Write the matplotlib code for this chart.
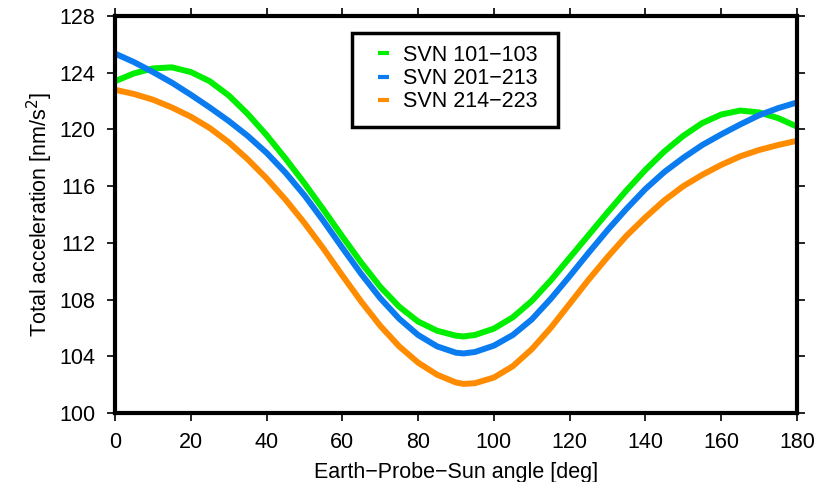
import numpy as np
import matplotlib
matplotlib.use("Agg")
import matplotlib.pyplot as plt
from matplotlib.patches import Rectangle

plt.rcParams['font.family'] = ['Liberation Sans', 'DejaVu Sans']

# Earth-Probe-Sun angle [deg]
angle = [0, 5, 10, 15, 20, 25, 30, 35, 40, 45, 50, 55, 60, 65, 70, 75, 80, 85, 90, 92,
         95, 100, 105, 110, 115, 120, 125, 130, 135, 140, 145, 150, 155, 160, 165, 170, 175, 180]

# total acceleration [nm/s^2]
svn_101_103 = [123.4, 123.95, 124.3, 124.38, 124.05, 123.4, 122.4, 121.1, 119.6, 117.95,
               116.2, 114.35, 112.45, 110.6, 108.9, 107.5, 106.45, 105.8, 105.45, 105.4,
               105.5, 105.95, 106.75, 107.9, 109.35, 110.95, 112.55, 114.15, 115.7, 117.15,
               118.45, 119.55, 120.45, 121.05, 121.33, 121.2, 120.8, 120.2]
svn_201_213 = [125.35, 124.75, 124.05, 123.3, 122.45, 121.55, 120.6, 119.55, 118.35, 116.95,
               115.35, 113.55, 111.65, 109.8, 108.1, 106.65, 105.5, 104.7, 104.25, 104.2,
               104.3, 104.75, 105.5, 106.6, 108.05, 109.65, 111.3, 112.9, 114.4, 115.8,
               117.0, 118.0, 118.9, 119.65, 120.35, 121.0, 121.5, 121.9]
svn_214_223 = [122.8, 122.5, 122.1, 121.55, 120.9, 120.1, 119.1, 117.9, 116.55, 115.05,
               113.4, 111.6, 109.7, 107.85, 106.15, 104.7, 103.55, 102.7, 102.15, 102.05,
               102.1, 102.5, 103.3, 104.5, 106.0, 107.7, 109.4, 111.0, 112.5, 113.8,
               115.0, 116.0, 116.8, 117.5, 118.1, 118.55, 118.9, 119.2]

labels = ["SVN 101\u2212103", "SVN 201\u2212213", "SVN 214\u2212223"]
colors = ["#00ee00", "#0a7cf0", "#ff8c00"]

fig = plt.figure(figsize=(8.26, 4.82), dpi=100)
ax = fig.add_axes([0.1392, 0.1432, 0.8257, 0.8236])

for y, lab, c in zip([svn_101_103, svn_201_213, svn_214_223], labels, colors):
    ax.plot(angle, y, color=c, lw=4.3, label=lab, solid_capstyle='butt',
            solid_joinstyle='round')

ax.set_xlim(0, 180)
ax.set_ylim(100, 128)
ax.set_xticks(np.arange(0, 181, 20))
ax.set_yticks(np.arange(100, 129, 4))

for s in ax.spines.values():
    s.set_linewidth(3)
ax.tick_params(direction='out', length=6, width=1.2, labelsize=15.5,
               top=True, right=True, pad=8)

ax.set_xlabel("Earth\u2212Probe\u2212Sun angle [deg]", fontsize=15.5, labelpad=6)
ax.set_ylabel("Total acceleration [nm/s$^2$]", fontsize=15.5, labelpad=3)

# legend box drawn separately so its padding matches the original
ax.add_patch(Rectangle((0.3475, 0.7204), 0.3021, 0.2366, transform=ax.transAxes,
                       facecolor='white', edgecolor='black', lw=2.5, zorder=4))
leg = ax.legend(loc='upper left', bbox_to_anchor=(0.3856, 0.927), borderaxespad=0,
                frameon=False, fontsize=15.5, handlelength=0.5, handletextpad=0.65,
                labelspacing=0.1, borderpad=0)
leg.set_zorder(5)
for h in leg.get_lines():
    h.set_linewidth(3)

fig.savefig("out.png", dpi=100)
